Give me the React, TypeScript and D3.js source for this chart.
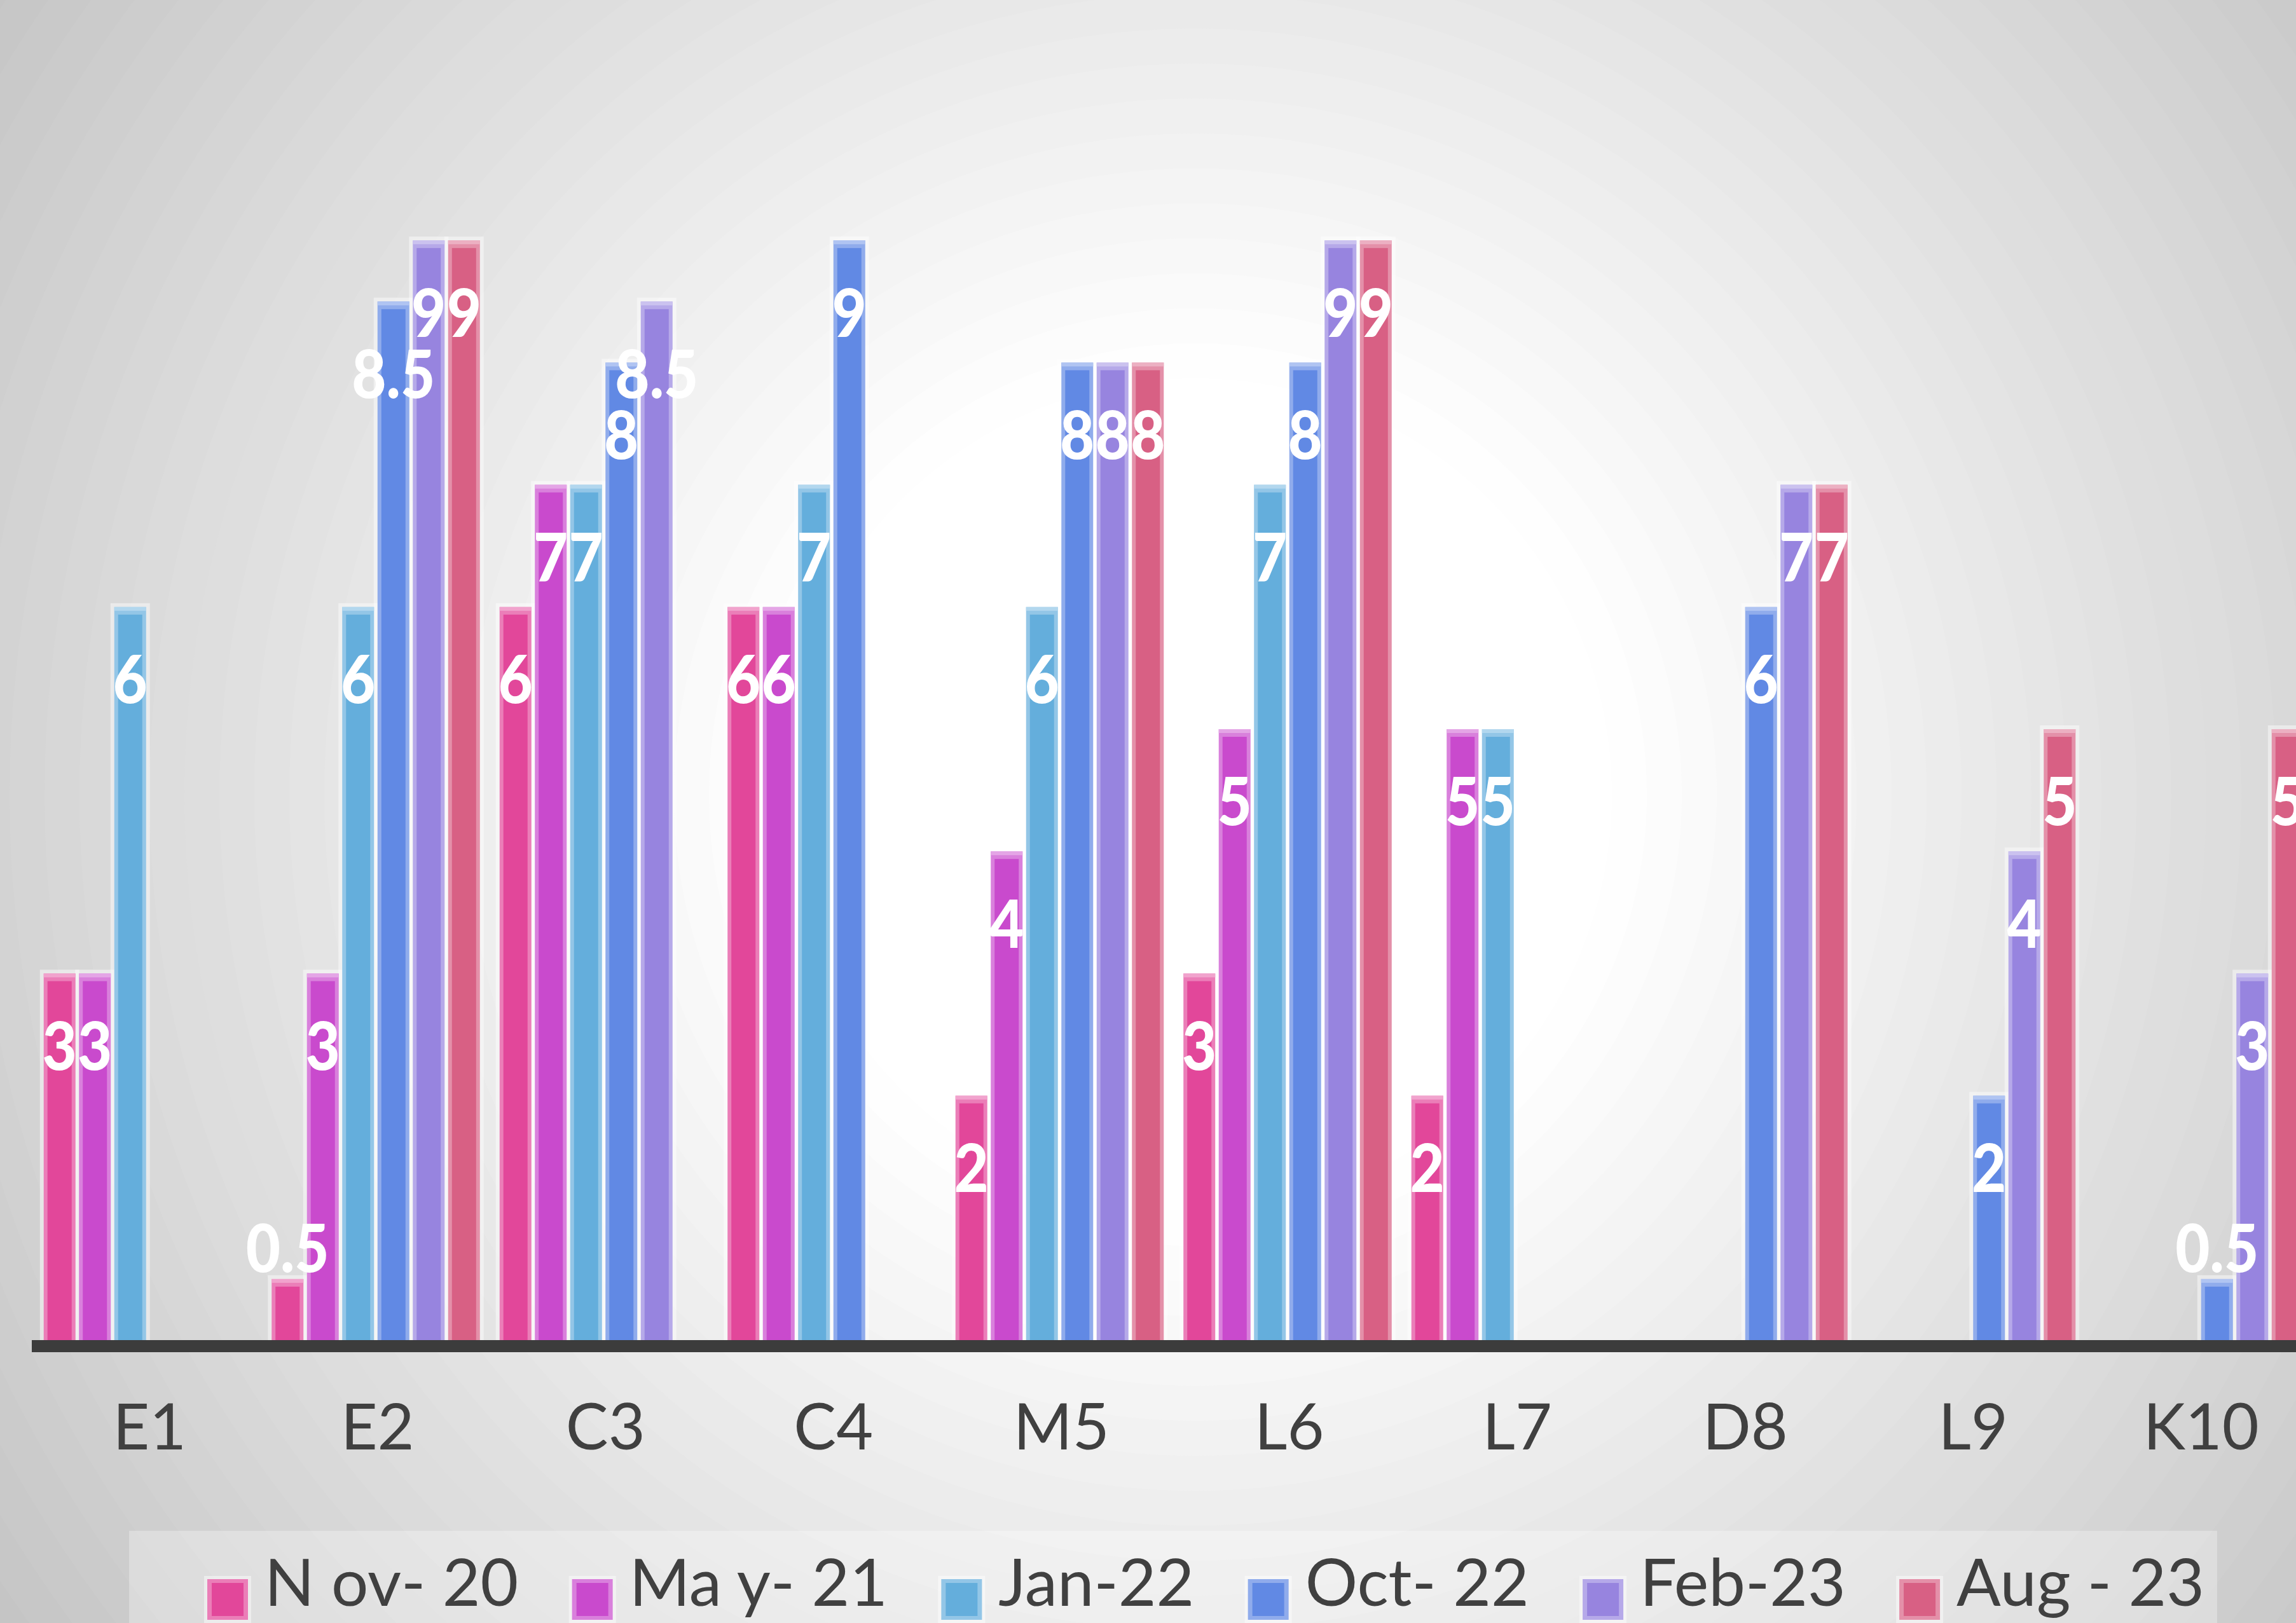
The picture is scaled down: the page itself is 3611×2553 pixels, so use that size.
import React, { useEffect, useRef } from 'react';
import * as d3 from 'd3';

// ---- data ----
const categories = ['E1', 'E2', 'C3', 'C4', 'M5', 'L6', 'L7', 'D8', 'L9', 'K10'];
const seriesNames = ['N ov- 20', 'Ma y- 21', 'Jan-22', 'Oct- 22', 'Feb-23', 'Aug - 23'];
const nov20 = [3, 0.5, 6, 6, 2, 3, 2, null, null, null];
const may21 = [3, 3, 7, 6, 4, 5, 5, null, null, null];
const jan22 = [6, 6, 7, 7, 6, 7, 5, null, null, null];
const oct22 = [null, 8.5, 8, 9, 8, 8, null, 6, 2, 0.5];
const feb23 = [null, 9, 8.5, null, 8, 9, null, 7, 4, 3];
const aug23 = [null, 9, null, null, 8, 9, null, 7, 5, 5];
const seriesColors = ['#E2479A', '#C94ACD', '#64AEDC', '#6189E4', '#9784DF', '#D86084'];

const W = 3611;
const H = 2553;
const FONT = "Lato, 'Open Sans', sans-serif";

export default function App() {
  const ref = useRef<SVGSVGElement>(null);

  useEffect(() => {
    const svg = d3.select(ref.current);
    svg.selectAll('*').remove();

    const allSeries = [nov20, may21, jan22, oct22, feb23, aug23];

    // ---- banded radial background ----
    const cx = 1880, cy = 1250;
    const gray = (r: number) => {
      const t = Math.max(0, Math.min(1.15, (r - 650) / 1600));
      return Math.round(255 - 57 * t);
    };
    const bg = svg.append('g');
    const step = 55;
    for (let r = 2800; r > 0; r -= step) {
      const g = gray(r - step / 2);
      bg.append('circle')
        .attr('cx', cx).attr('cy', cy).attr('r', r)
        .attr('fill', `rgb(${g},${g},${g})`);
    }

    // ---- scales ----
    const axisY = 2108;
    const x0 = d3.scaleBand<string>()
      .domain(categories)
      .range([56, 56 + 358.5 * categories.length])
      .paddingInner(0.071)
      .paddingOuter(0.0355);
    const x1 = d3.scaleBand<string>()
      .domain(seriesNames)
      .range([0, x0.bandwidth()]);
    const y = d3.scaleLinear().domain([0, 10]).range([axisY, axisY - 1922]);

    type Bar = { cat: string; s: number; v: number };
    const bars: Bar[] = [];
    categories.forEach((c, i) => {
      allSeries.forEach((arr, s) => {
        const v = arr[i];
        if (v !== null && v !== undefined) bars.push({ cat: c, s, v });
      });
    });

    const bw = x1.bandwidth() - 5.5;
    const bx = (d: Bar) => (x0(d.cat) as number) + (x1(seriesNames[d.s]) as number);

    // glow behind bars
    svg.append('g').selectAll('rect').data(bars).join('rect')
      .attr('x', d => bx(d) - 6)
      .attr('y', d => y(d.v) - 6)
      .attr('width', bw + 12)
      .attr('height', d => axisY - y(d.v) + 6)
      .attr('fill', '#ffffff')
      .attr('opacity', 0.45);

    const gBars = svg.append('g');
    // light rim
    gBars.selectAll('rect.rim').data(bars).join('rect')
      .attr('class', 'rim')
      .attr('x', d => bx(d))
      .attr('y', d => y(d.v))
      .attr('width', bw)
      .attr('height', d => axisY - y(d.v))
      .attr('fill', d => d3.interpolateRgb(seriesColors[d.s], '#ffffff')(0.3));
    // main body
    gBars.selectAll('rect.body').data(bars).join('rect')
      .attr('class', 'body')
      .attr('x', d => bx(d) + 6)
      .attr('y', d => Math.min(axisY, y(d.v) + 12))
      .attr('width', bw - 12)
      .attr('height', d => Math.max(0, axisY - y(d.v) - 12))
      .attr('fill', d => seriesColors[d.s]);
    // pale top cap
    gBars.selectAll('rect.cap').data(bars).join('rect')
      .attr('class', 'cap')
      .attr('x', d => bx(d))
      .attr('y', d => y(d.v))
      .attr('width', bw)
      .attr('height', 6)
      .attr('fill', d => d3.interpolateRgb(seriesColors[d.s], '#ffffff')(0.5));

    // ---- axis line ----
    svg.append('rect')
      .attr('x', 50).attr('y', axisY)
      .attr('width', W).attr('height', 19)
      .attr('fill', '#3C3C3C');

    // ---- category labels ----
    svg.append('g').selectAll('text').data(categories).join('text')
      .attr('x', d => (x0(d) as number) + x0.bandwidth() / 2)
      .attr('y', 2280)
      .attr('text-anchor', 'middle')
      .attr('font-family', FONT)
      .attr('font-size', 100)
      .attr('fill', '#404040')
      .text(d => d);

    // ---- data labels ----
    const lfs = 104;
    svg.append('g').selectAll('text').data(bars).join('text')
      .attr('transform', d => {
        const h = axisY - y(d.v);
        const c = h < 160 ? y(d.v) - 48 : y(d.v) + 114;
        return `translate(${bx(d) + bw / 2},${c + lfs * 0.36}) scale(0.9,1)`;
      })
      .attr('text-anchor', 'middle')
      .attr('font-family', FONT)
      .attr('font-weight', 900)
      .attr('font-size', lfs)
      .attr('fill', '#ffffff')
      .text(d => String(d.v));

    // ---- legend ----
    svg.append('rect')
      .attr('x', 203).attr('y', 2408)
      .attr('width', 3284).attr('height', 200)
      .attr('fill', '#ffffff').attr('opacity', 0.3);

    const gLeg = svg.append('g');
    const items = seriesNames.map((name, i) => {
      const g = gLeg.append('g');
      g.append('rect')
        .attr('x', -5).attr('y', -5).attr('width', 74).attr('height', 74)
        .attr('fill', '#ffffff').attr('opacity', 0.45);
      g.append('rect')
        .attr('width', 64).attr('height', 64)
        .attr('fill', d3.interpolateRgb(seriesColors[i], '#ffffff')(0.3));
      g.append('rect')
        .attr('x', 7).attr('y', 6).attr('width', 50).attr('height', 52)
        .attr('fill', seriesColors[i]);
      const t = g.append('text')
        .attr('x', 90).attr('y', 42)
        .attr('font-family', FONT)
        .attr('font-size', 103)
        .attr('fill', '#404040')
        .text(name);
      const tw = (t.node() as SVGTextElement).getComputedTextLength();
      return { g, w: 90 + tw };
    });
    const startX = 326, endX = 3467;
    const total = d3.sum(items, d => d.w);
    const gap = (endX - startX - total) / (items.length - 1);
    let cur = startX;
    items.forEach(it => {
      it.g.attr('transform', `translate(${cur},2484)`);
      cur += it.w + gap;
    });
  }, []);

  return (
    <svg
      ref={ref}
      width={W}
      height={H}
      style={{ position: 'absolute', left: 0, top: 0, display: 'block' }}
    />
  );
}
